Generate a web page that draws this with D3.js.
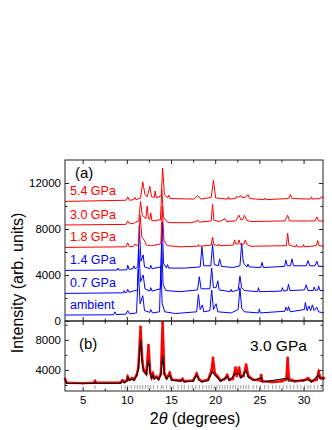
<!DOCTYPE html>
<html>
<head>
<meta charset="utf-8">
<script src="https://cdn.jsdelivr.net/npm/d3@7"></script>
<style>
  body { margin: 0; background: #fff; }
  text { font-family: "Liberation Sans", Arial, sans-serif; }
</style>
</head>
<body>
<svg id="plot-svg"></svg>
<script>
// data: [2theta, intensity]
const pressureLabels = ["ambient", "0.7 GPa", "1.4 GPa", "1.8 GPa", "3.0 GPa", "5.4 GPa"];
const seriesColors = ["#0000ff", "#0000ff", "#0000ff", "#ff0000", "#ff0000", "#ff0000"];
const labelValues = [500, 2430, 4430, 6430, 8350, 10430];

const ambient = [[3,520],[8.5,540],[8.65,800],[8.8,560],[9.9,600],[10.1,900],[10.3,620],[11.1,700],[11.3,4500],[11.5,1500],[11.8,2200],[12.0,900],[12.6,750],[12.7,1000],[12.9,700],[13.7,800],[13.85,4800],[14.0,1500],[14.3,800],[15.5,650],[17.9,800],[18.1,2300],[18.3,1000],[18.55,1400],[18.7,800],[19.4,900],[19.6,2700],[19.8,1000],[20.1,1500],[20.3,800],[21.8,700],[22.6,1000],[22.8,2900],[23.0,1100],[23.3,800],[24.9,700],[25.0,1050],[25.1,700],[27.9,850],[28.0,1200],[28.2,900],[28.3,1250],[28.5,800],[30.1,1000],[30.2,1600],[30.4,900],[30.6,1300],[30.8,900],[31.0,1400],[31.2,900],[31.5,1200],[31.7,800],[32.3,700]];
const gpa07 = [[3,2400],[9.6,2450],[9.7,2650],[9.8,2450],[10.0,2500],[10.1,2750],[10.25,2500],[11.2,2700],[11.35,6300],[11.55,3400],[11.85,4000],[12.05,2800],[12.6,2600],[12.7,2900],[12.85,2600],[13.8,2800],[13.95,6600],[14.1,3200],[14.4,2650],[16,2550],[18.0,2700],[18.2,3850],[18.4,2800],[19.4,2800],[19.6,4600],[19.8,2900],[20.1,2900],[20.3,3500],[20.45,2700],[21.7,2550],[21.8,2750],[21.9,2550],[22.6,2700],[22.8,3900],[23.0,2900],[23.3,2650],[24.8,2550],[24.9,2900],[25.0,2550],[27.5,2600],[27.6,2900],[27.75,2600],[28.15,2650],[28.3,3200],[28.45,2650],[30.1,2700],[30.3,3150],[30.5,2650],[31.1,2650],[31.2,2950],[31.35,2650],[31.6,2700],[31.7,3050],[31.85,2650],[32.3,2650]];
const gpa14 = [[3,4400],[8.9,4430],[9.0,4600],[9.1,4430],[10.0,4450],[10.1,4850],[10.25,4500],[10.7,4550],[10.8,4800],[10.95,4550],[11.25,4700],[11.4,8300],[11.6,5200],[11.85,5750],[12.0,4700],[12.6,4550],[12.7,4850],[12.85,4550],[13.85,4700],[14.0,8600],[14.15,5000],[14.5,4600],[14.6,4900],[14.75,4600],[16.5,4600],[18.3,4700],[18.5,6450],[18.7,4800],[19.5,4800],[19.7,6650],[19.9,4900],[20.35,4800],[20.5,5400],[20.7,4750],[22.0,4650],[22.8,4800],[23.0,6750],[23.15,5300],[23.3,4900],[23.6,4700],[23.7,4950],[23.85,4700],[25.15,4650],[25.3,5100],[25.45,4650],[27.85,4750],[28.0,5300],[28.15,4800],[28.5,4800],[28.7,5400],[28.85,4800],[30.3,4800],[30.5,5250],[30.7,4800],[31.3,4800],[31.5,5200],[31.7,4750],[32.3,4750]];
const gpa18 = [[3,6400],[9.9,6450],[10.1,6800],[10.3,6450],[10.8,6500],[10.95,6700],[11.1,6550],[11.35,6700],[11.5,9200],[11.7,7300],[12.0,7000],[12.2,6600],[12.8,6550],[13.85,6700],[14.0,10000],[14.2,7000],[14.6,6550],[16,6450],[18.0,6500],[18.1,6650],[18.2,6500],[19.55,6600],[19.7,7300],[19.85,6650],[20.3,6550],[20.4,6700],[20.5,6550],[22.05,6600],[22.2,7050],[22.3,6700],[22.55,6700],[22.7,7050],[22.85,6650],[23.25,6700],[23.4,7050],[23.6,6650],[24,6500],[28.05,6550],[28.2,7650],[28.35,6600],[29.1,6450],[29.2,6650],[29.3,6450],[29.9,6450],[30.0,6650],[30.1,6450],[31.45,6550],[31.6,7000],[31.75,6550],[32.3,6500]];
const gpa30 = [[3,8350],[9.9,8400],[10.1,8700],[10.3,8450],[10.8,8500],[11.0,8600],[11.35,8700],[11.55,10400],[11.75,9200],[12.15,8900],[12.3,10000],[12.45,8900],[12.6,8800],[12.7,9400],[12.85,8700],[13.8,8800],[13.95,11500],[14.15,9000],[14.6,8600],[15,8550],[17.2,8550],[17.9,8650],[18.0,8800],[18.2,8600],[19.55,8700],[19.7,10150],[19.85,8750],[20.5,8650],[21.1,8900],[21.3,8650],[22.3,8700],[22.7,9200],[22.9,8800],[23.15,8850],[23.3,9200],[23.6,8750],[24,8650],[27.9,8700],[28.2,9200],[28.4,8700],[31.3,8700],[31.5,9050],[31.7,8700],[32.3,8700]];
const gpa54 = [[3,10400],[9.9,10500],[10.1,10800],[10.3,10500],[10.8,10550],[10.9,10750],[11.05,10550],[11.55,10700],[11.8,12100],[12.05,11000],[12.3,10800],[12.6,11700],[12.8,10800],[13.1,10750],[13.2,11300],[13.35,10700],[13.9,10900],[14.05,13300],[14.25,11000],[14.6,10700],[14.75,10950],[14.9,10650],[17.6,10600],[18.0,10900],[18.4,10600],[19.55,10750],[19.8,12250],[20.05,10700],[21.4,10600],[21.5,10800],[21.6,10600],[22.3,10650],[22.4,10850],[22.55,10750],[22.95,10900],[23.1,10700],[23.5,10800],[23.7,11000],[23.9,10650],[25.5,10550],[25.6,10700],[25.7,10550],[28.3,10650],[28.5,11000],[28.7,10650],[30.8,10600],[30.9,10800],[31.0,10600],[31.9,10650],[32.0,10800],[32.3,10650]];
const stacked = [ambient, gpa07, gpa14, gpa18, gpa30, gpa54];

// panel (b), 3.0 GPa refinement
const observed = [[3,2800],[3.2,2300],[5,2250],[6.3,2300],[6.4,2500],[6.5,2300],[9.3,2350],[9.5,2600],[9.7,2400],[10.0,2600],[10.1,3100],[10.3,2700],[10.6,2900],[10.8,2700],[11.1,3300],[11.3,4300],[11.55,9700],[11.75,5200],[11.9,4000],[12.2,3500],[12.45,7300],[12.65,3600],[12.8,3000],[12.95,3500],[13.1,2900],[13.35,3100],[13.6,2800],[13.85,3500],[14.05,10300],[14.25,3500],[14.5,2900],[14.85,3600],[15.1,2700],[16.1,2600],[16.3,2800],[16.5,2500],[17.5,2600],[17.9,3500],[18.2,2700],[18.5,2500],[19.2,2700],[19.6,4000],[19.75,5600],[19.95,3600],[20.3,3100],[20.6,2600],[21.1,2800],[21.35,3300],[21.6,2700],[22.0,2800],[22.3,4300],[22.45,3200],[22.7,4300],[22.9,3100],[23.2,3200],[23.5,4700],[23.75,3200],[24.3,2700],[25.1,2600],[25.2,3300],[25.35,2500],[26.5,2400],[27.5,2500],[28.05,2700],[28.2,5600],[28.35,2800],[29.0,2500],[30.0,2600],[30.5,2900],[30.9,2500],[31.5,2700],[31.7,3700],[31.9,3000],[32.3,2900]];
const calculated = [[3,2700],[3.2,2200],[6.3,2200],[6.4,2350],[6.5,2200],[9.3,2250],[9.5,2500],[9.7,2300],[10.0,2500],[10.1,3000],[10.3,2600],[10.6,2800],[10.8,2600],[11.1,3200],[11.3,4000],[11.55,8000],[11.75,4800],[11.9,3800],[12.2,3400],[12.45,5300],[12.65,3500],[12.8,2900],[12.95,3300],[13.1,2800],[13.35,3000],[13.6,2700],[13.85,3400],[14.05,5800],[14.25,3400],[14.5,2800],[14.85,3300],[15.1,2600],[16.1,2500],[16.3,2700],[16.5,2400],[17.5,2500],[17.9,3300],[18.2,2600],[18.5,2400],[19.2,2600],[19.7,3800],[19.95,3300],[20.3,2900],[20.6,2500],[21.35,3100],[21.6,2600],[22.3,3500],[22.7,3500],[22.9,2900],[23.5,3900],[23.75,3000],[24.3,2600],[25.2,3000],[25.35,2400],[28.2,2900],[28.35,2500],[30.5,2700],[30.9,2400],[31.7,3300],[31.9,2800],[32.3,2800]];
const reflections = [6.4, 9.4, 9.8, 10.1, 10.5, 10.9, 11.2, 11.5, 11.8, 12.1, 12.4, 12.7, 13.0, 13.5, 13.9, 14.1, 14.5, 14.9, 15.3, 15.8, 16.2, 16.5, 17.0, 17.4, 17.8, 18.2, 18.6, 19.0, 19.3, 19.6, 19.9, 20.2, 20.5, 20.8, 21.1, 21.4, 21.7, 22.0, 22.3, 22.6, 22.9, 23.2, 23.5, 23.8, 24.3, 24.7, 25.1, 25.6, 26.0, 26.5, 26.9, 27.3, 27.7, 28.1, 28.5, 28.9, 29.3, 29.7, 30.1, 30.5, 30.8, 31.2, 31.6, 32.0];

const xTicks = [5, 10, 15, 20, 25, 30];
const xMinor = [2.5, 7.5, 12.5, 17.5, 22.5, 27.5];
const yTicksA = [0, 4000, 8000, 12000];
const yMinorA = [2000, 6000, 10000];
const yTicksB = [4000, 8000];
const yMinorB = [2000, 6000, 10000];

const W = 332, H = 430;
const left = 65, right = 323;
const topA = 160, botA = 321, botB = 391;

const svg = d3.select("#plot-svg").attr("width", W).attr("height", H);

const x = d3.scaleLinear().domain([3, 32.2]).range([left, right]);
const yA = d3.scaleLinear().domain([0, 14000]).range([botA, topA]);
const yB = d3.scaleLinear().domain([1200, 10500]).range([botB, botA]);

const fmt = d3.format("d");

// panel a: lines
const lineA = d3.line().x(d => x(d[0])).y(d => yA(d[1]));
svg.append("g").selectAll("path")
    .data(stacked)
    .enter()
    .append("path")
    .attr("d", lineA)
    .attr("fill", "none")
    .attr("stroke", (d, i) => seriesColors[i])
    .attr("stroke-width", 1);

svg.append("g").selectAll("text")
    .data(pressureLabels)
    .enter()
    .append("text")
    .attr("x", 70)
    .attr("y", (d, i) => yA(labelValues[i]) - 6)
    .attr("fill", (d, i) => seriesColors[i])
    .style("font-size", "12.5px")
    .text(d => d);

// panel b
const lineB = d3.line().x(d => x(d[0])).y(d => yB(d[1]));
svg.append("g").selectAll("line")
    .data(reflections)
    .enter()
    .append("line")
    .attr("x1", d => x(d)).attr("x2", d => x(d))
    .attr("y1", yB(1450)).attr("y2", yB(2000))
    .attr("stroke", "#888").attr("stroke-width", 0.8);

svg.append("path")
    .datum(observed)
    .attr("d", lineB)
    .attr("fill", "none")
    .attr("stroke", "#ff0000")
    .attr("stroke-width", 2.4);
svg.append("g").selectAll("circle")
    .data(observed)
    .enter()
    .append("circle")
    .attr("cx", d => x(d[0]))
    .attr("cy", d => yB(d[1]))
    .attr("r", 1.4)
    .attr("fill", "#ff0000");
svg.append("path")
    .datum(calculated)
    .attr("d", lineB)
    .attr("fill", "none")
    .attr("stroke", "#000")
    .attr("stroke-width", 1.1);

// axes
function axes(y, top, bottom, majors, minors, xLabels) {
    const g = svg.append("g").attr("class", "axis");
    g.append("g").attr("transform", `translate(${left},0)`)
        .call(d3.axisLeft(y).tickValues(majors).tickSize(-4).tickPadding(4).tickFormat(fmt));
    g.append("g").attr("transform", `translate(${left},0)`)
        .call(d3.axisLeft(y).tickValues(minors.filter(v => y(v) > top && y(v) < bottom)).tickSize(-2.5).tickFormat(""));
    g.append("g").attr("transform", `translate(${right},0)`)
        .call(d3.axisRight(y).tickValues(majors.filter(v => y(v) > top && y(v) < bottom)).tickSize(-4).tickFormat(""));
    g.append("g").attr("transform", `translate(${right},0)`)
        .call(d3.axisRight(y).tickValues(minors.filter(v => y(v) > top && y(v) < bottom)).tickSize(-2.5).tickFormat(""));
    g.append("g").attr("transform", `translate(0,${top})`)
        .call(d3.axisTop(x).tickValues(xTicks).tickSize(-4).tickFormat(""));
    g.append("g").attr("transform", `translate(0,${top})`)
        .call(d3.axisTop(x).tickValues(xMinor.filter(v => v > 3)).tickSize(-2.5).tickFormat(""));
    g.append("g").attr("transform", `translate(0,${bottom})`)
        .call(d3.axisBottom(x).tickValues(xTicks).tickSize(-4).tickPadding(5).tickFormat(xLabels ? fmt : ""));
    g.append("g").attr("transform", `translate(0,${bottom})`)
        .call(d3.axisBottom(x).tickValues(xMinor.filter(v => v > 3)).tickSize(-2.5).tickFormat(""));
    g.selectAll(".domain").remove();
    g.selectAll("line").attr("stroke", "#222");
    g.selectAll("text").style("font-size", "11.5px").attr("fill", "#000")
        .style("font-family", "'Liberation Sans', Arial, sans-serif");
    svg.append("rect")
        .attr("x", left).attr("y", top)
        .attr("width", right - left).attr("height", bottom - top)
        .attr("fill", "none").attr("stroke", "#222").attr("stroke-width", 1);
}
axes(yA, topA, botA, yTicksA, yMinorA, false);
axes(yB, botA, botB, yTicksB, yMinorB, true);

// panel labels
svg.append("text").attr("x", 75).attr("y", 178).style("font-size", "15px").text("(a)");
svg.append("text").attr("x", 79).attr("y", 349).style("font-size", "15px").text("(b)");
svg.append("text").attr("x", 250).attr("y", 351).style("font-size", "15.5px").text("3.0 GPa");

// axis titles
svg.append("text")
    .attr("text-anchor", "middle")
    .attr("transform", "translate(23,283) rotate(-90)")
    .style("font-size", "16px")
    .text("Intensity (arb. units)");
const xt = svg.append("text")
    .attr("x", 195).attr("y", 424)
    .attr("text-anchor", "middle")
    .style("font-size", "16px");
xt.append("tspan").text("2");
xt.append("tspan").style("font-style", "italic").text("θ");
xt.append("tspan").text(" (degrees)");
</script>
</body>
</html>
